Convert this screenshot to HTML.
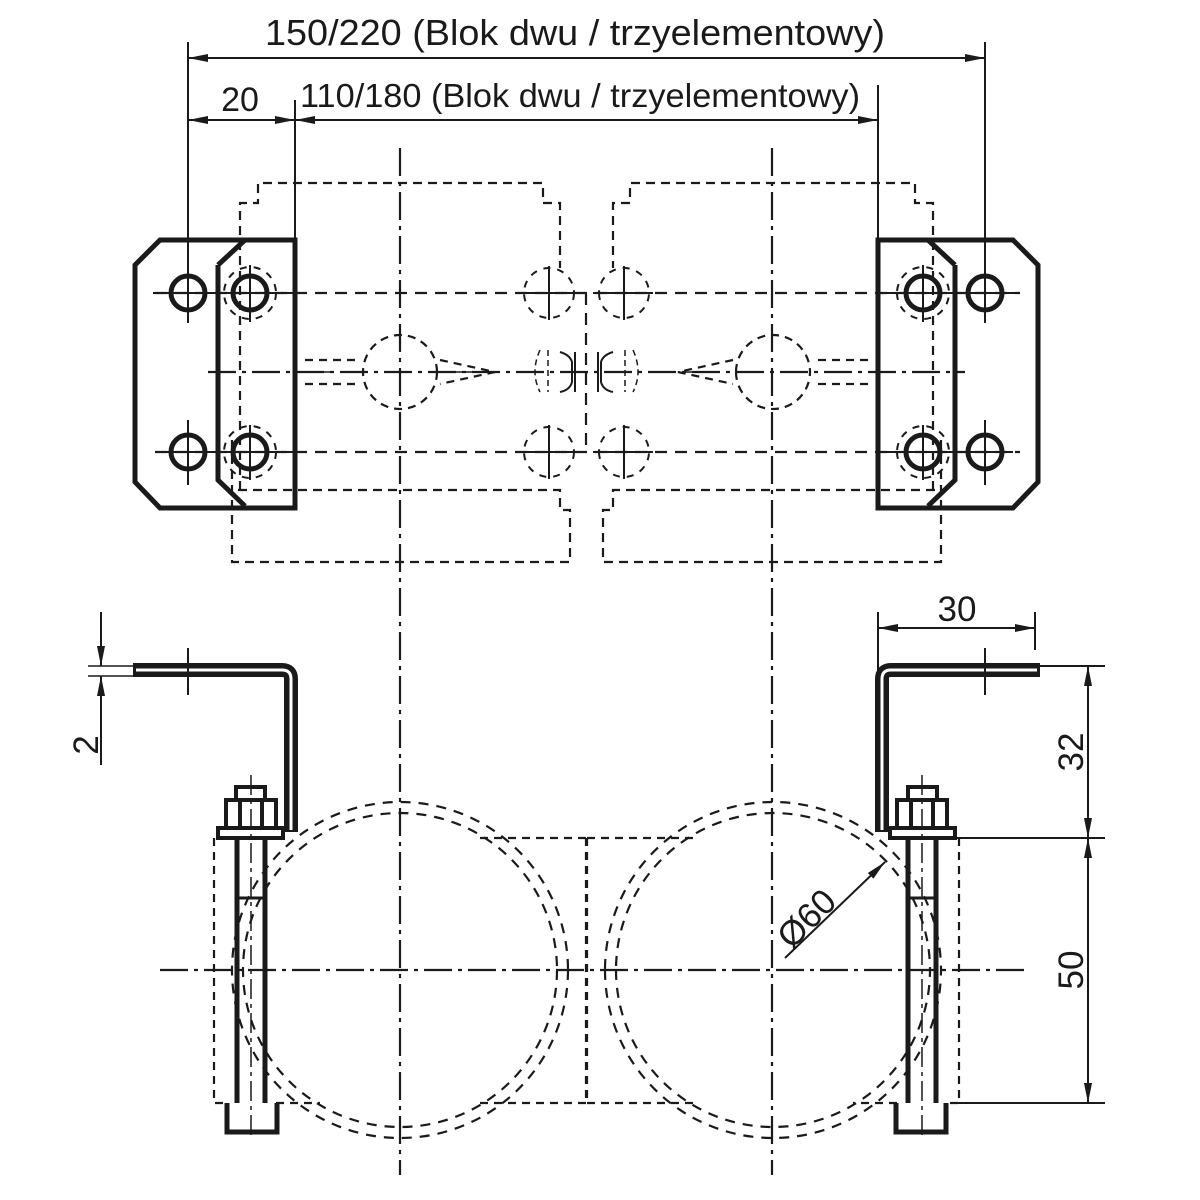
<!DOCTYPE html>
<html><head><meta charset="utf-8"><style>
html,body{margin:0;padding:0;background:#fff;width:1200px;height:1200px;overflow:hidden}
svg{display:block}
text{font-family:"Liberation Sans",sans-serif;fill:#1a1a1a}
</style></head><body>
<svg width="1200" height="1200" viewBox="0 0 1200 1200" xmlns="http://www.w3.org/2000/svg">
<defs>
<marker id="ar" viewBox="0 0 20 8" refX="20" refY="4" markerWidth="20" markerHeight="8" markerUnits="userSpaceOnUse" orient="auto-start-reverse"><path d="M0,0 L20,4 L0,8 z" fill="#1a1a1a"/></marker>
<g id="half" fill="none" stroke="#1a1a1a">
 <path d="M240,490 V203 H258 V183 H543 V203 H560 V268" stroke-width="2.2" stroke-dasharray="9,6"/>
 <path d="M232,440 V562 H570 V510 H560 V490 H232" stroke-width="2.2" stroke-dasharray="9,6"/>
 <circle cx="400" cy="372" r="37" stroke-width="2.2" stroke-dasharray="8,6"/>
 <path d="M305,360 H360 M305,384 H360 M440,360 L495,372 L440,384" stroke-width="2.2" stroke-dasharray="8,6"/>
 <path d="M322,372 H330 M455,372 H490" stroke-width="1.5"/>
 <circle cx="549" cy="293" r="25" stroke-width="2" stroke-dasharray="7,7"/>
 <circle cx="549" cy="452" r="25" stroke-width="2" stroke-dasharray="7,7"/>
 <path d="M549,266 V320 M549,425 V479 M520,293 H580 M520,452 H580" stroke-width="2"/>
 <path d="M540,350 Q530,372 540,392 M548,350 V392" stroke-width="1.5" stroke-dasharray="6,4"/>
 <path d="M560,352 Q570,355 572,362 V382 Q570,390 560,392 M575,352 V392" stroke-width="2"/>
 <path d="M135,265 L160,240 H295 V508 H160 L135,482 Z" stroke-width="5"/>
 <path d="M218,265 L245,240 M218,265 V480 L245,506" stroke-width="5"/>
 <circle cx="188" cy="293" r="17" stroke-width="5"/>
 <circle cx="188" cy="452" r="17" stroke-width="5"/>
 <circle cx="250" cy="293" r="17" stroke-width="5"/>
 <circle cx="250" cy="452" r="17" stroke-width="5"/>
 <circle cx="250" cy="293" r="26" stroke-width="2" stroke-dasharray="7,7"/>
 <circle cx="250" cy="452" r="26" stroke-width="2" stroke-dasharray="7,7"/>
 <path d="M153,293 H295 M160,452 H295 M188,276 V323 M188,420 V485 M250,265 V322 M250,425 V480" stroke-width="2"/>
 <circle cx="400" cy="970" r="168" stroke-width="2.2" stroke-dasharray="10,8"/>
 <circle cx="400" cy="970" r="157" stroke-width="2.2" stroke-dasharray="10,8"/>
 <path d="M214,838 V1103 H228 M276,1103 H320 M480,838 H586 M480,1103 H586 M586,838 V1103" stroke-width="2.2" stroke-dasharray="8,6"/>
 <path d="M237,838 V1103 M265,838 V1103" stroke-width="5"/>
 <path d="M251,775 V1140" stroke-width="1.5" stroke-dasharray="20,5,4,5"/>
 <path d="M237,898 H265" stroke-width="3"/>
 <path d="M227,1103 V1132 H277 V1103" stroke-width="5"/>
 <rect x="218" y="828" width="65" height="10" stroke-width="4"/>
 <rect x="226" y="800" width="50" height="28" stroke-width="4"/>
 <path d="M236,800 V787 H265 V800 M240,800 V828 M262,800 V828" stroke-width="4"/>
 <path d="M133,670 H282 Q291,670 291,679 V832" stroke-width="14"/>
 <path d="M136,670 H282 Q291,670 291,679 V830" stroke="#fff" stroke-width="3"/>
 <path d="M188,648 V695" stroke-width="2"/>
</g>
</defs>

<g fill="none" stroke="#1a1a1a" stroke-width="2.2">
 <path d="M400,148 V1175 M772,148 V1175" stroke-dasharray="28,6,4,6"/>
 <path d="M208,372 H965 M160,970 H1030" stroke-dasharray="28,6,4,6"/>
 <path d="M155,293 H1020 M155,452 H1020 M586,293 V452" stroke-dasharray="12,8"/>
</g>
<use href="#half"/>
<use href="#half" transform="translate(1173,0) scale(-1,1)"/>

<g fill="none" stroke="#1a1a1a" stroke-width="2">
 <path d="M188,42 V290 M985,42 V290 M295,100 V240 M878,85 V240"/>
 <path d="M188,58 H985" marker-start="url(#ar)" marker-end="url(#ar)"/>
 <path d="M188,120 H295" marker-start="url(#ar)" marker-end="url(#ar)"/>
 <path d="M295,120 H878" marker-start="url(#ar)" marker-end="url(#ar)"/>
 <path d="M101,612 V666" marker-end="url(#ar)"/>
 <path d="M101,676 V765" marker-start="url(#ar)"/>
 <path d="M88,666 H133 M88,676 H133" stroke-width="1.5"/>
 <path d="M878,612 V675 M1035,612 V650"/>
 <path d="M878,628 H1035" marker-start="url(#ar)" marker-end="url(#ar)"/>
 <path d="M1040,666 H1105 M955,838 H1105 M955,1103 H1105"/>
 <path d="M1088,666 V838" marker-start="url(#ar)" marker-end="url(#ar)"/>
 <path d="M1088,838 V1103" marker-start="url(#ar)" marker-end="url(#ar)"/>
 <path d="M785,958 L885,862" marker-end="url(#ar)"/>
</g>
<text x="575" y="45" font-size="36" text-anchor="middle" textLength="620" lengthAdjust="spacingAndGlyphs">150/220 (Blok dwu / trzyelementowy)</text>
<text x="240" y="111" font-size="34" text-anchor="middle">20</text>
<text x="580" y="107" font-size="33" text-anchor="middle" textLength="560" lengthAdjust="spacingAndGlyphs">110/180 (Blok dwu / trzyelementowy)</text>
<text x="957" y="621" font-size="35" text-anchor="middle">30</text>
<text transform="translate(98,745) rotate(-90)" font-size="35" text-anchor="middle">2</text>
<text transform="translate(1083,752) rotate(-90)" font-size="35" text-anchor="middle">32</text>
<text transform="translate(1083,970) rotate(-90)" font-size="35" text-anchor="middle">50</text>
<text transform="translate(815,927) rotate(-45)" font-size="35" text-anchor="middle">Ø60</text>
</svg>
</body></html>
